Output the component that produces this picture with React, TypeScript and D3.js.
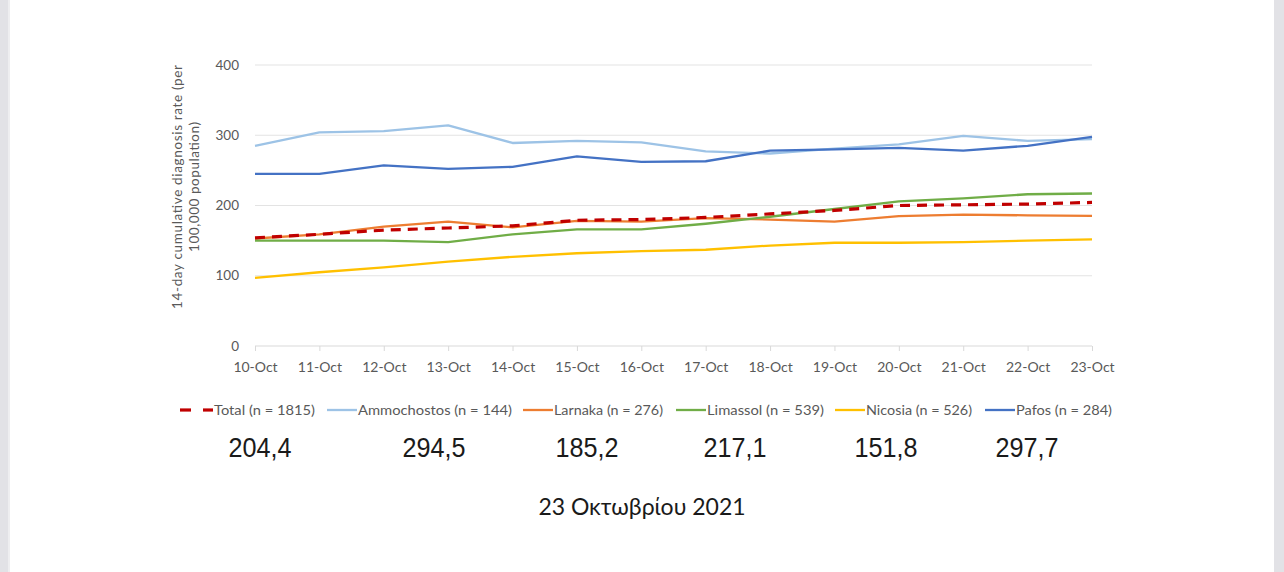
import * as d3 from 'd3'
import {useEffect, useRef} from 'react'

const dates = ['10-Oct', '11-Oct', '12-Oct', '13-Oct', '14-Oct', '15-Oct', '16-Oct', '17-Oct', '18-Oct', '19-Oct', '20-Oct', '21-Oct', '22-Oct', '23-Oct']
const yTicks = [0, 100, 200, 300, 400]

const total = [154, 159, 165, 168, 171, 179, 180, 183, 188, 193, 200, 201, 202, 204.4]
const ammochostos = [285, 304, 306, 314, 289, 292, 290, 277, 274, 281, 287, 299, 292, 294.5]
const larnaka = [153, 159, 170, 177, 169, 178, 177, 182, 180, 177, 185, 187, 186, 185.2]
const limassol = [150, 150, 150, 148, 159, 166, 166, 174, 184, 195, 206, 210, 216, 217.1]
const nicosia = [97, 105, 112, 120, 127, 132, 135, 137, 143, 147, 147, 148, 150, 151.8]
const pafos = [245, 245, 257, 252, 255, 270, 262, 263, 278, 280, 282, 278, 285, 297.7]

const seriesNames = ['Total (n = 1815)', 'Ammochostos (n = 144)', 'Larnaka (n = 276)', 'Limassol (n = 539)', 'Nicosia (n = 526)', 'Pafos (n = 284)']
const seriesColors = ['#c00000', '#9dc3e6', '#ed7d31', '#70ad47', '#ffc000', '#4472c4']
const seriesValues = [total, ammochostos, larnaka, limassol, nicosia, pafos]

const bigNumbers = ['204,4', '294,5', '185,2', '217,1', '151,8', '297,7']
const bigNumberX = [260, 434, 587, 735, 886, 1027]
const dateLabel = '23 Οκτωβρίου 2021'

export default function App() {
  const ref = useRef<SVGSVGElement>(null)

  useEffect(() => {
    const svg = d3.select(ref.current)
    svg.selectAll('*').remove()
    const W = 1284
    const H = 572

    svg.append('rect').attr('width', W).attr('height', H).attr('fill', '#ffffff')
    svg.append('rect').attr('x', 0).attr('width', 8).attr('height', H).attr('fill', '#e2e2e6')
    svg.append('rect').attr('x', 8).attr('width', 2).attr('height', H).attr('fill', '#eeeef0')
    svg.append('rect').attr('x', 1274).attr('width', 10).attr('height', H).attr('fill', '#e2e2e6')

    const x = d3.scalePoint<string>().domain(dates).range([255, 1092])
    const y = d3.scaleLinear().domain([0, 400]).range([346, 65])

    const font = 'Lato, "Open Sans", sans-serif'

    // gridlines
    svg
      .append('g')
      .selectAll('line')
      .data(yTicks.filter(t => t > 0))
      .enter()
      .append('line')
      .attr('x1', 255)
      .attr('x2', 1092)
      .attr('y1', d => y(d))
      .attr('y2', d => y(d))
      .attr('stroke', '#e3e3e3')
      .attr('stroke-width', 1)

    // y axis labels
    svg
      .append('g')
      .selectAll('text')
      .data(yTicks)
      .enter()
      .append('text')
      .attr('x', 239)
      .attr('y', d => y(d) + 4.5)
      .attr('text-anchor', 'end')
      .attr('font-family', font)
      .attr('font-size', 13.5)
      .attr('fill', '#595959')
      .text(d => d)

    // x axis
    const xAxis = svg
      .append('g')
      .attr('transform', `translate(0,${y(0)})`)
      .call(d3.axisBottom(x).tickSize(5).tickPadding(11))
    xAxis.select('.domain').attr('stroke', '#d9d9d9').attr('d', `M255,0H1092`)
    xAxis.selectAll('.tick line').attr('stroke', '#d9d9d9')
    xAxis
      .selectAll('.tick text')
      .attr('font-family', font)
      .attr('font-size', 14)
      .attr('fill', '#595959')

    // axis title
    const title = svg
      .append('text')
      .attr('transform', 'translate(185,187) rotate(-90)')
      .attr('text-anchor', 'middle')
      .attr('font-family', font)
      .attr('font-size', 13.5)
      .attr('fill', '#595959')
    title.append('tspan').attr('x', 0).attr('dy', '-0.2em').attr('textLength', 244).text('14-day cumulative diagnosis rate (per')
    title.append('tspan').attr('x', 0).attr('dy', '1.25em').attr('textLength', 130).text('100,000 population)')

    const line = d3
      .line<number>()
      .x((_, i) => x(dates[i]) || 0)
      .y(d => y(d))

    const order = [1, 2, 3, 4, 5, 0]
    for (const i of order) {
      svg
        .append('path')
        .datum(seriesValues[i])
        .attr('d', line)
        .attr('fill', 'none')
        .attr('stroke', seriesColors[i])
        .attr('stroke-width', i === 0 ? 3.2 : 2.3)
        .attr('stroke-dasharray', i === 0 ? '10,7' : null)
        .attr('stroke-linejoin', 'round')
    }

    // legend
    const legendX = [180, 327, 523, 676, 835, 985]
    const legendTextW = [101, 154, 109, 117, 106, 96]
    const lg = svg.append('g')
    seriesNames.forEach((name, i) => {
      const g = lg.append('g').attr('transform', `translate(${legendX[i]},410)`)
      if (i === 0) {
        g.append('line').attr('x1', 0).attr('x2', 11).attr('stroke', seriesColors[i]).attr('stroke-width', 3.2)
        g.append('line').attr('x1', 23).attr('x2', 33).attr('stroke', seriesColors[i]).attr('stroke-width', 3.2)
      } else {
        g.append('line').attr('x1', 0).attr('x2', 30).attr('stroke', seriesColors[i]).attr('stroke-width', 2.3)
      }
      g.append('text')
        .attr('x', i === 0 ? 34 : 31)
        .attr('y', 4.8)
        .attr('font-family', font)
        .attr('font-size', 14)
        .attr('textLength', legendTextW[i])
        .attr('lengthAdjust', 'spacingAndGlyphs')
        .attr('fill', '#595959')
        .text(name)
    })

    // big numbers
    svg
      .append('g')
      .selectAll('text')
      .data(bigNumbers)
      .enter()
      .append('text')
      .attr('transform', (_, i) => `translate(${bigNumberX[i]},457) scale(0.9,1)`)
      .attr('text-anchor', 'middle')
      .attr('font-family', '"Liberation Sans", Arial, sans-serif')
      .attr('font-size', 28)
      .attr('fill', '#1a1a1a')
      .text(d => d)

    svg
      .append('text')
      .attr('x', 642)
      .attr('y', 515)
      .attr('text-anchor', 'middle')
      .attr('font-family', font)
      .attr('font-size', 23)
      .attr('fill', '#1a1a1a')
      .text(dateLabel)
  }, [])

  return <svg ref={ref} width={1284} height={572} style={{position: 'fixed', left: 0, top: 0}} />
}
